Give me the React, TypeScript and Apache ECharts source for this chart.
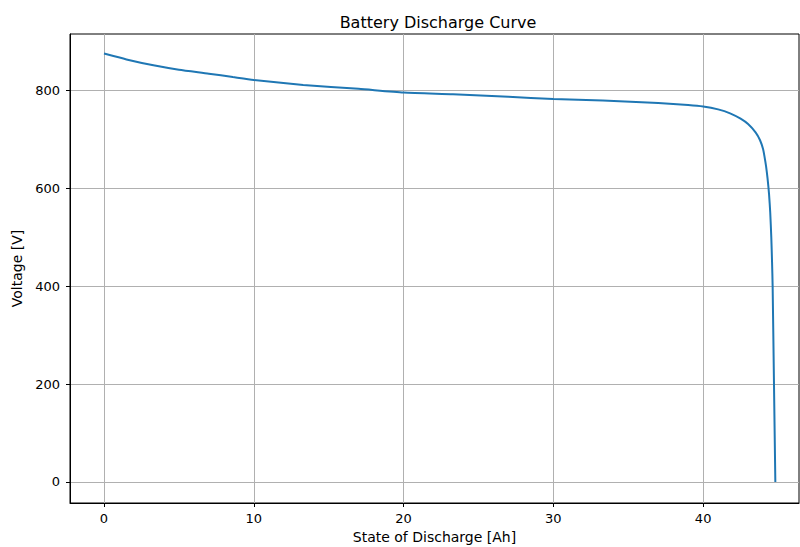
import React, { useEffect, useRef } from "react";
import * as echarts from "echarts";

const socAh = [
  0, 1.5, 3.3, 5, 7, 8.6, 10, 13.3, 17, 20, 23.3, 27, 30, 33.3, 37, 39, 40, 41,
  41.8, 42.5, 43, 43.5, 43.8, 44, 44.1, 44.2, 44.3, 44.4, 44.48, 44.55, 44.6,
  44.64, 44.73, 44.82,
];
const voltage = [
  875, 863, 851, 842, 834, 827, 821, 811, 803, 795.5, 792, 787, 782, 779, 774,
  770, 767, 761, 753, 742, 731, 714, 698, 680, 664, 645, 620, 588, 550, 500,
  450, 400, 200, 0,
];
const xTicks = [0, 10, 20, 30, 40];
const yTicks = [0, 200, 400, 600, 800];

const FONT = "DejaVu Sans";

export default function App() {
  const ref = useRef<HTMLDivElement>(null);
  useEffect(() => {
    if (!ref.current) return;
    const chart = echarts.init(ref.current, undefined, { renderer: "svg" });
    const points = socAh.map((x, i) => [x, voltage[i]]);
    chart.setOption({
      animation: false,
      backgroundColor: "#ffffff",
      title: {
        text: "Battery Discharge Curve",
        left: 433,
        top: 9,
        textAlign: "center",
        textStyle: { fontFamily: FONT, fontSize: 16, fontWeight: "normal", color: "#000" },
      },
      grid: {
        left: 70,
        right: 1,
        top: 34,
        bottom: 44,
        show: true,
        borderColor: "#000",
        borderWidth: 1,
        backgroundColor: "transparent",
        containLabel: false,
        outerBoundsMode: "none",
      },
      xAxis: {
        type: "value",
        min: -2.27,
        max: 46.4,
        name: "State of Discharge [Ah]",
        nameLocation: "middle",
        nameGap: 27,
        nameTextStyle: { fontFamily: FONT, fontSize: 14, color: "#000" },
        axisLine: { show: true, onZero: false, lineStyle: { color: "#000" } },
        axisTick: { show: true, inside: false, length: 4, customValues: xTicks, lineStyle: { color: "#000" } },
        axisLabel: { customValues: xTicks, margin: 9, fontFamily: FONT, fontSize: 13, color: "#000" },
        splitLine: { show: true, lineStyle: { color: "#b0b0b0", width: 1 } },
      },
      yAxis: {
        type: "value",
        min: -43,
        max: 915,
        name: "Voltage [V]",
        nameLocation: "middle",
        nameGap: 44,
        nameRotate: 90,
        nameTextStyle: { fontFamily: FONT, fontSize: 14, color: "#000" },
        axisLine: { show: true, onZero: false, lineStyle: { color: "#000" } },
        axisTick: { show: true, inside: false, length: 4, customValues: yTicks, lineStyle: { color: "#000" } },
        axisLabel: { customValues: yTicks, margin: 10, fontFamily: FONT, fontSize: 13, color: "#000" },
        splitLine: { show: true, lineStyle: { color: "#b0b0b0", width: 1 } },
      },
      series: [
        {
          type: "line",
          data: points,
          showSymbol: false,
          smooth: 0.2,
          lineStyle: { color: "#1f77b4", width: 2 },
          itemStyle: { color: "#1f77b4" },
        },
      ],
    });
    return () => chart.dispose();
  }, []);
  return (
    <div
      ref={ref}
      style={{ position: "fixed", left: 0, top: 0, width: 800, height: 547 }}
    />
  );
}
